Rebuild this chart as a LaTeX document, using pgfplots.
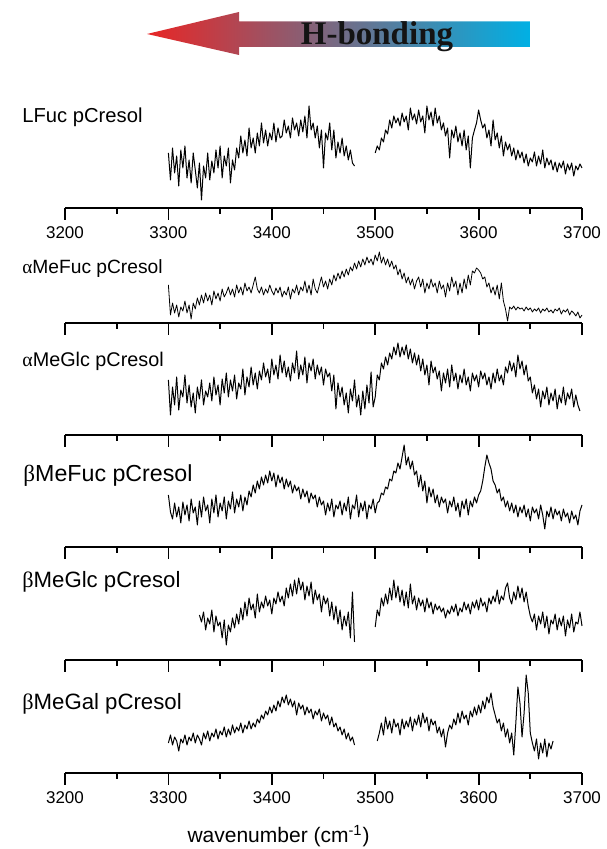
\documentclass[border=0pt]{standalone}
\usepackage{pgfplots}
\pgfplotsset{compat=1.18}
\usepackage{pgfplotstable}
\usepackage{fontspec}
\setmainfont{Liberation Sans}
\newfontfamily\serifb{Liberation Serif}

\pgfplotstableread{
x y
3300 55
3302 28
3304 60
3306 35
3308 52
3310 22
3312 58
3314 40
3316 62
3318 30
3320 48
3322 25
3324 55
3326 38
3328 20
3330 45
3332 8
3334 42
3336 30
3338 55
3340 28
3342 47
3344 35
3346 58
3348 40
3350 62
3352 30
3354 52
3356 42
3358 60
3360 25
3362 48
3364 38
3366 60
3368 50
3370 72
3372 55
3374 68
3376 52
3378 80
3380 60
3382 70
3384 55
3386 75
3388 62
3390 85
3392 65
3394 78
3396 62
3398 75
3400 68
3402 85
3404 66
3406 80
3408 70
3410 72
3412 88
3414 75
3416 82
3418 70
3420 90
3422 78
3424 85
3426 72
3428 88
3430 76
3432 92
3434 70
3436 102
3438 78
3440 85
3442 70
3444 82
3446 60
3448 78
3450 40
3452 75
3454 68
3456 85
3458 58
3460 78
3462 50
3464 66
3466 55
3468 70
3470 52
3472 62
3474 48
3476 58
3478 45
3480 42
}\pA
\pgfplotstableread{
x y
3500 55
3502 62
3504 58
3506 70
3508 66
3510 78
3512 74
3514 88
3516 80
3518 92
3520 85
3522 90
3524 82
3526 95
3528 86
3530 92
3532 78
3534 100
3536 88
3538 94
3540 84
3542 98
3544 86
3546 92
3548 75
3550 102
3552 88
3554 96
3556 82
3558 100
3560 85
3562 92
3564 78
3566 85
3568 72
3570 80
3572 50
3574 78
3576 70
3578 82
3580 66
3582 75
3584 62
3586 78
3588 58
3590 72
3592 40
3594 70
3596 78
3598 85
3600 98
3602 88
3604 80
3606 84
3608 70
3610 78
3612 62
3614 88
3616 68
3618 75
3620 60
3622 72
3624 52
3626 66
3628 58
3630 64
3632 52
3634 60
3636 48
3638 58
3640 50
3642 56
3644 45
3646 54
3648 42
3650 50
3652 46
3654 56
3656 42
3658 52
3660 44
3662 58
3664 40
3666 50
3668 43
3670 48
3672 38
3674 46
3676 36
3678 45
3680 40
3682 47
3684 34
3686 44
3688 38
3690 45
3692 32
3694 42
3696 38
3698 44
3700 40
}\pB
\pgfplotstableread{
x y
3300 38
3302 8
3304 20
3306 10
3308 18
3310 6
3312 16
3314 12
3316 22
3318 10
3320 18
3322 4
3324 20
3326 14
3328 25
3330 18
3332 28
3334 20
3336 30
3338 22
3340 28
3342 18
3344 32
3346 24
3348 30
3350 22
3352 34
3354 26
3356 30
3358 36
3360 28
3362 34
3364 26
3366 38
3368 30
3370 36
3372 28
3374 40
3376 32
3378 36
3380 30
3382 38
3384 46
3386 34
3388 30
3390 36
3392 28
3394 34
3396 30
3398 38
3400 32
3402 28
3404 35
3406 30
3408 36
3410 26
3412 32
3414 28
3416 36
3418 24
3420 34
3422 30
3424 38
3426 28
3428 36
3430 32
3432 42
3434 30
3436 38
3438 28
3440 44
3442 34
3444 30
3446 38
3448 46
3450 36
3452 42
3454 34
3456 44
3458 38
3460 48
3462 42
3464 50
3466 44
3468 52
3470 46
3472 54
3474 48
3476 56
3478 52
3480 60
3482 54
3484 62
3486 56
3488 64
3490 58
3492 66
3494 60
3496 64
3498 58
3500 68
3502 62
3504 71
3506 60
3508 66
3510 58
3512 64
3514 56
3516 62
3518 54
3520 58
3522 48
3524 54
3526 44
3528 50
3530 40
3532 46
3534 38
3536 44
3538 34
3540 42
3542 46
3544 36
3546 44
3548 30
3550 40
3552 34
3554 44
3556 36
3558 40
3560 30
3562 42
3564 34
3566 38
3568 26
3570 40
3572 32
3574 46
3576 36
3578 42
3580 28
3582 40
3584 30
3586 44
3588 34
3590 48
3592 38
3594 52
3596 50
3598 55
3600 53
3602 50
3604 44
3606 46
3608 36
3610 40
3612 30
3614 36
3616 28
3618 38
3620 24
3622 40
3624 22
3626 14
3628 2
3630 16
3632 14
3634 17
3636 13
3638 16
3640 14
3642 15
3644 12
3646 16
3648 13
3650 15
3652 11
3654 14
3656 12
3658 15
3660 10
3662 14
3664 12
3666 15
3668 11
3670 13
3672 10
3674 14
3676 12
3678 15
3680 9
3682 13
3684 11
3686 14
3688 8
3690 12
3692 10
3694 7
3696 11
3698 5
3700 8
}\pC
\pgfplotstableread{
x y
3300 55
3302 20
3304 48
3306 30
3308 58
3310 25
3312 45
3314 38
3316 60
3318 32
3320 50
3322 28
3324 42
3326 22
3328 48
3330 36
3332 55
3334 30
3336 44
3338 38
3340 52
3342 34
3344 58
3346 40
3348 50
3350 30
3352 56
3354 42
3356 62
3358 38
3360 55
3362 44
3364 60
3366 36
3368 52
3370 46
3372 66
3374 40
3376 58
3378 48
3380 68
3382 50
3384 62
3386 46
3388 64
3390 55
3392 72
3394 58
3396 66
3398 52
3400 76
3402 60
3404 70
3406 56
3408 80
3410 62
3412 74
3414 58
3416 68
3418 54
3420 72
3422 62
3424 84
3426 56
3428 70
3430 60
3432 78
3434 52
3436 72
3438 64
3440 76
3442 56
3444 70
3446 60
3448 68
3450 50
3452 66
3454 58
3456 62
3458 44
3460 60
3462 26
3464 52
3466 38
3468 48
3470 30
3472 42
3474 22
3476 46
3478 34
3480 55
3482 28
3484 40
3486 20
3488 44
3490 26
3492 50
3494 32
3496 63
3498 28
3500 38
3502 60
3504 55
3506 72
3508 66
3510 78
3512 70
3514 82
3516 76
3518 88
3520 80
3522 92
3524 78
3526 88
3528 80
3530 90
3532 76
3534 86
3536 72
3538 82
3540 70
3542 80
3544 64
3546 76
3548 60
3550 70
3552 50
3554 74
3556 62
3558 68
3560 56
3562 64
3564 44
3566 62
3568 52
3570 66
3572 48
3574 70
3576 54
3578 62
3580 46
3582 60
3584 52
3586 66
3588 50
3590 58
3592 44
3594 62
3596 54
3598 60
3600 48
3602 64
3604 56
3606 62
3608 50
3610 58
3612 46
3614 62
3616 52
3618 66
3620 54
3622 60
3624 50
3626 68
3628 62
3630 74
3632 64
3634 72
3636 58
3638 80
3640 66
3642 74
3644 60
3646 70
3648 54
3650 58
3652 42
3654 50
3656 36
3658 46
3660 28
3662 44
3664 36
3666 48
3668 30
3670 42
3672 34
3674 46
3676 26
3678 40
3680 32
3682 48
3684 30
3686 42
3688 36
3690 46
3692 28
3694 40
3696 30
3698 24
}\pD
\pgfplotstableread{
x y
3300 52
3302 35
3304 28
3306 44
3308 30
3310 40
3312 24
3314 45
3316 32
3318 42
3320 26
3322 48
3324 34
3326 40
3328 22
3330 46
3332 30
3334 50
3336 36
3338 42
3340 24
3342 48
3344 34
3346 52
3348 30
3350 44
3352 36
3354 50
3356 28
3358 46
3360 38
3362 55
3364 34
3366 48
3368 40
3370 52
3372 36
3374 50
3376 42
3378 56
3380 50
3382 62
3384 54
3386 66
3388 58
3390 70
3392 62
3394 72
3396 64
3398 76
3400 66
3402 74
3404 60
3406 72
3408 64
3410 70
3412 58
3414 68
3416 60
3418 66
3420 54
3422 62
3424 56
3426 60
3428 48
3430 58
3432 50
3434 56
3436 44
3438 54
3440 48
3442 52
3444 40
3446 50
3448 42
3450 46
3452 32
3454 44
3456 36
3458 48
3460 30
3462 42
3464 38
3466 46
3468 32
3470 44
3472 36
3474 50
3476 28
3478 42
3480 38
3482 52
3484 30
3486 44
3488 36
3490 46
3492 28
3494 42
3496 38
3498 48
3500 34
3502 44
3504 46
3506 54
3508 52
3510 60
3512 58
3514 68
3516 66
3518 76
3520 74
3522 84
3524 78
3526 90
3528 102
3530 82
3532 90
3534 78
3536 86
3538 72
3540 76
3542 60
3544 72
3546 56
3548 66
3550 44
3552 60
3554 50
3556 58
3558 44
3560 52
3562 40
3564 50
3566 44
3568 48
3570 34
3572 46
3574 40
3576 50
3578 36
3580 44
3582 30
3584 46
3586 38
3588 48
3590 32
3592 46
3594 40
3596 50
3598 44
3600 52
3602 56
3604 66
3606 80
3608 92
3610 84
3612 78
3614 66
3616 62
3618 54
3620 58
3622 46
3624 50
3626 40
3628 46
3630 36
3632 44
3634 34
3636 42
3638 30
3640 40
3642 34
3644 42
3646 30
3648 38
3650 26
3652 40
3654 34
3656 38
3658 28
3660 42
3662 32
3664 18
3666 36
3668 30
3670 40
3672 28
3674 38
3676 32
3678 36
3680 26
3682 38
3684 30
3686 34
3688 24
3690 36
3692 28
3694 32
3696 22
3698 36
3700 42
}\pE
\pgfplotstableread{
x y
3330 45
3332 38
3334 48
3336 30
3338 42
3340 36
3342 50
3344 28
3346 44
3348 34
3350 38
3352 22
3354 40
3356 15
3358 35
3360 28
3362 42
3364 32
3366 46
3368 36
3370 52
3372 40
3374 58
3376 44
3378 62
3380 50
3382 56
3384 42
3386 66
3388 48
3390 58
3392 52
3394 64
3396 54
3398 60
3400 46
3402 62
3404 56
3406 68
3408 58
3410 64
3412 54
3414 72
3416 62
3418 76
3420 64
3422 80
3424 66
3426 82
3428 70
3430 78
3432 60
3434 74
3436 64
3438 78
3440 56
3442 70
3444 60
3446 66
3448 48
3450 64
3452 56
3454 62
3456 44
3458 58
3460 40
3462 54
3464 36
3466 50
3468 30
3470 44
3472 34
3474 48
3476 22
3478 68
3480 18
}\pF
\pgfplotstableread{
x y
3500 33
3502 50
3504 44
3506 62
3508 54
3510 66
3512 56
3514 72
3516 60
3518 80
3520 62
3522 74
3524 58
3526 70
3528 54
3530 68
3532 52
3534 76
3536 56
3538 64
3540 50
3542 62
3544 54
3546 60
3548 48
3550 62
3552 52
3554 58
3556 46
3558 56
3560 50
3562 54
3564 48
3566 52
3568 42
3570 50
3572 46
3574 54
3576 48
3578 56
3580 44
3582 52
3584 48
3586 58
3588 50
3590 56
3592 46
3594 58
3596 52
3598 60
3600 50
3602 62
3604 54
3606 58
3608 48
3610 62
3612 56
3614 64
3616 58
3618 70
3620 56
3622 64
3624 60
3626 72
3628 77
3630 62
3632 56
3634 68
3636 60
3638 74
3640 62
3642 72
3644 58
3646 68
3648 54
3650 44
3652 38
3654 46
3656 30
3658 44
3660 36
3662 48
3664 32
3666 44
3668 26
3670 40
3672 36
3674 46
3676 30
3678 42
3680 34
3682 44
3684 24
3686 40
3688 32
3690 46
3692 28
3694 38
3696 36
3698 48
3700 34
}\pG
\pgfplotstableread{
x y
3300 30
3302 38
3304 28
3306 36
3308 32
3310 22
3312 34
3314 30
3316 38
3318 28
3320 36
3322 32
3324 40
3326 30
3328 38
3330 34
3332 28
3334 40
3336 34
3338 42
3340 32
3342 40
3344 36
3346 44
3348 34
3350 42
3352 38
3354 46
3356 36
3358 44
3360 38
3362 48
3364 40
3366 46
3368 42
3370 50
3372 40
3374 48
3376 44
3378 52
3380 44
3382 50
3384 46
3386 54
3388 50
3390 58
3392 54
3394 62
3396 58
3398 66
3400 60
3402 68
3404 62
3406 72
3408 66
3410 76
3412 70
3414 78
3416 68
3418 74
3420 66
3422 72
3424 58
3426 70
3428 64
3430 68
3432 58
3434 66
3436 60
3438 64
3440 54
3442 62
3444 58
3446 64
3448 52
3450 60
3452 54
3454 58
3456 48
3458 56
3460 46
3462 50
3464 42
3466 46
3468 38
3470 44
3472 34
3474 40
3476 32
3478 36
3480 28
}\pH
\pgfplotstableread{
x y
3502 32
3504 40
3506 50
3508 38
3510 56
3512 44
3514 52
3516 40
3518 54
3520 46
3522 50
3524 38
3526 54
3528 44
3530 52
3532 46
3534 56
3536 42
3538 54
3540 48
3542 58
3544 46
3546 60
3548 50
3550 56
3552 42
3554 54
3556 48
3558 52
3560 40
3562 46
3564 36
3566 44
3568 26
3570 40
3572 48
3574 44
3576 54
3578 48
3580 60
3582 50
3584 62
3586 54
3588 58
3590 48
3592 62
3594 56
3596 66
3598 58
3600 68
3602 60
3604 72
3606 64
3608 76
3610 70
3612 80
3614 66
3616 58
3618 50
3620 54
3622 42
3624 50
3626 36
3628 44
3630 30
3632 40
3634 18
3636 50
3638 86
3640 70
3642 36
3644 60
3646 98
3648 80
3650 40
3652 30
3654 22
3656 34
3658 14
3660 30
3662 20
3664 34
3666 16
3668 30
3670 24
3672 32
}\pI

\pgfplotsset{panel/.style={
  anchor=south west, scale only axis, width=258.5pt, height=55pt,
  xmin=3200, xmax=3700, ymin=0, ymax=110, enlargelimits=false,
  axis x line=bottom, axis y line=none,
  axis line style={-, line width=1pt, black},
  xtick={3200,3300,...,3700}, minor xtick={3250,3350,...,3650},
  tick align=outside, major tick length=6pt, minor tick length=3pt,
  every tick/.style={line width=0.9pt, black},
  every minor tick/.style={line width=0.9pt, black},
  clip=false,
  xticklabel style={font=\fontsize{8.5}{10}\selectfont},
  /pgf/number format/1000 sep={}, /pgf/number format/assume math mode=true,
}, spec/.style={black, line width=0.5pt, line join=round}}

\begin{document}
\begin{tikzpicture}
\path[use as bounding box] (0,0) rectangle (303pt,424.5pt);
% arrow
\shade[left color={rgb,255:red,232;green,38;blue,38}, middle color={rgb,255:red,160;green,118;blue,118}, right color={rgb,255:red,0;green,176;blue,228}]
  (73.5pt,407.5pt) -- (119.5pt,418.5pt) -- (119.5pt,413.75pt) -- (265pt,413.75pt) -- (265pt,401pt) -- (119.5pt,401pt) -- (119.5pt,397pt) -- cycle;
\node[anchor=base, inner sep=0pt, text={rgb,255:red,20;green,20;blue,20}] at (188.5pt,402pt) {\serifb\fontsize{16.5}{18}\selectfont\bfseries H-bonding};

\begin{axis}[panel, at={(32.5pt,320.5pt)}]
\addplot[spec] table {\pA};
\addplot[spec] table {\pB};
\end{axis}
\begin{axis}[panel, at={(32.5pt,263pt)}, xticklabels={}]
\addplot[spec, line width=0.4pt] table {\pC};
\end{axis}
\begin{axis}[panel, at={(32.5pt,207pt)}, xticklabels={}]
\addplot[spec] table {\pD};
\end{axis}
\begin{axis}[panel, at={(32.5pt,151pt)}, xticklabels={}]
\addplot[spec] table {\pE};
\end{axis}
\begin{axis}[panel, at={(32.5pt,94.5pt)}, xticklabels={}]
\addplot[spec] table {\pF};
\addplot[spec] table {\pG};
\end{axis}
\begin{axis}[panel, at={(32.5pt,38pt)}]
\addplot[spec] table {\pH};
\addplot[spec] table {\pI};
\end{axis}

\begin{scope}[every node/.style={anchor=base west, inner sep=0pt}]
\node[font=\fontsize{10.1}{12}\selectfont] at (11pt,363pt) {LFuc pCresol};
\node[font=\fontsize{9.6}{12}\selectfont] at (11pt,287.5pt) {{\serifb α}MeFuc pCresol};
\node[font=\fontsize{9.9}{12}\selectfont] at (11pt,241pt) {{\serifb α}MeGlc pCresol};
\node[font=\fontsize{11.6}{14}\selectfont] at (11.5pt,183.5pt) {{\serifb β}MeFuc pCresol};
\node[font=\fontsize{11.1}{14}\selectfont] at (11pt,130.5pt) {{\serifb β}MeGlc pCresol};
\node[font=\fontsize{11.1}{14}\selectfont] at (11pt,69.5pt) {{\serifb β}MeGal pCresol};
\end{scope}
\node[anchor=base, inner sep=0pt, font=\fontsize{10.5}{12}\selectfont] at (139.3pt,3pt) {wavenumber (cm\textsuperscript{-1})};
\end{tikzpicture}
\end{document}
